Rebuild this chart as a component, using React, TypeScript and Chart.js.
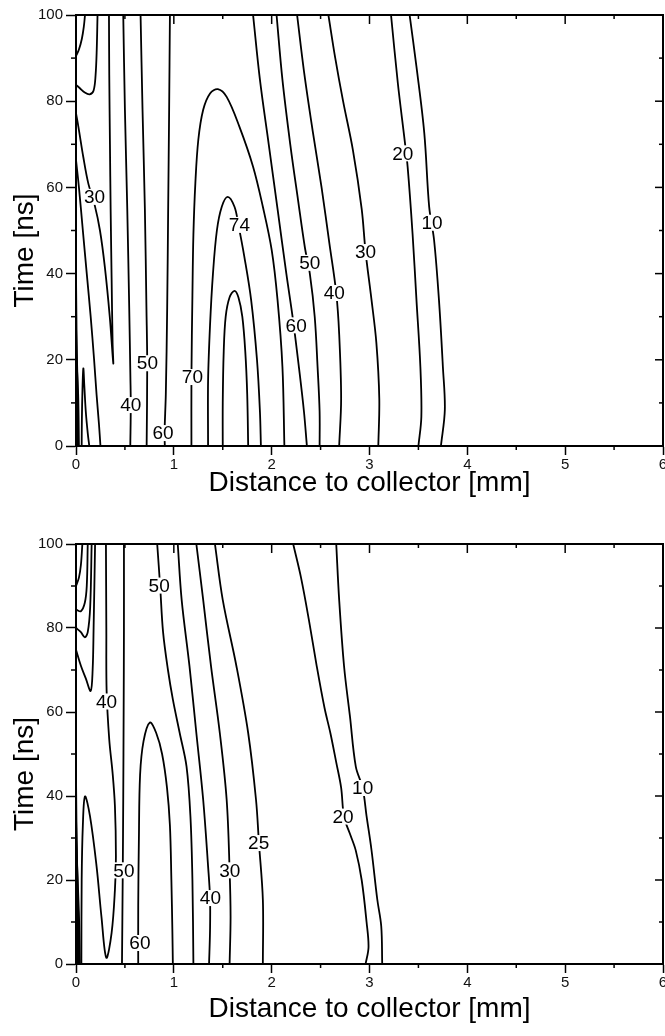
import React, { useEffect, useRef } from 'react';
import { Chart, registerables } from 'chart.js';

Chart.register(...registerables);

type P = [number, number];
type Lbl = [string, number, number];

// ---------- Upper panel contours (x: mm, y: ns) ----------
const upA: P[] = [[0, 90.5], [0.03, 92], [0.06, 94.5], [0.08, 97.3], [0.092, 100]];
const upB: P[] = [[0, 83.8], [0.04, 83], [0.09, 82], [0.14, 81.6], [0.18, 82.5], [0.2, 86], [0.212, 92], [0.22, 100]];
const up30V: P[] = [[0, 77.2], [0.025, 74], [0.075, 67], [0.125, 61], [0.19, 56], [0.245, 50], [0.295, 41.5], [0.345, 30], [0.381, 19.2], [0.374, 24], [0.364, 39], [0.354, 55], [0.347, 70], [0.34, 86], [0.337, 100]];
const upL: P[] = [[0, 66.4], [0.03, 60], [0.07, 50], [0.11, 40], [0.15, 30], [0.185, 20], [0.21, 12], [0.235, 5], [0.25, 0]];
const upE1: P[] = [[0, 40], [0.008, 20], [0.012, 0]];
const upE2: P[] = [[0, 28], [0.015, 15], [0.02, 0]];
const upE3: P[] = [[0, 22], [0.022, 12], [0.03, 0]];
const upPeak: P[] = [[0.058, 0], [0.06, 6], [0.066, 13], [0.075, 18], [0.085, 14], [0.1, 8], [0.12, 3], [0.136, 0]];
const up40: P[] = [[0.483, 100], [0.5, 78], [0.524, 55], [0.544, 32], [0.556, 16], [0.56, 9.5], [0.555, 0]];
const up50: P[] = [[0.66, 100], [0.68, 78], [0.704, 55], [0.72, 32], [0.728, 19], [0.722, 0]];
const up60: P[] = [[0.96, 100], [0.952, 78], [0.942, 55], [0.932, 32], [0.918, 12], [0.905, 3], [0.908, 0]];
const up70: P[] = [[1.18, 0], [1.18, 16], [1.19, 35], [1.2, 49], [1.22, 61], [1.25, 71], [1.3, 78], [1.37, 81.8], [1.45, 82.8], [1.54, 81], [1.67, 74.1], [1.81, 64.8], [1.91, 55.5], [2.0, 45.5], [2.06, 33.9], [2.11, 18.4], [2.13, 0]];
const up74: P[] = [[1.35, 0], [1.35, 15], [1.37, 28], [1.4, 40], [1.44, 50], [1.49, 55.5], [1.55, 57.8], [1.62, 55.5], [1.66, 51.3], [1.72, 44], [1.79, 33.9], [1.85, 20], [1.88, 8], [1.89, 0]];
const up76: P[] = [[1.5, 0], [1.5, 10], [1.51, 22], [1.53, 30], [1.57, 34.5], [1.62, 36], [1.66, 34.5], [1.7, 30], [1.73, 22], [1.75, 12], [1.76, 0]];
const up60R: P[] = [[1.81, 100], [1.88, 85], [1.97, 70], [2.06, 55], [2.15, 40], [2.22, 29], [2.28, 18], [2.33, 8], [2.36, 0]];
const up50R: P[] = [[2.05, 100], [2.11, 85], [2.19, 70], [2.27, 57], [2.34, 46], [2.39, 40], [2.44, 30], [2.47, 18], [2.49, 8], [2.49, 0]];
const up40R: P[] = [[2.26, 100], [2.33, 87], [2.42, 73], [2.51, 60], [2.59, 47], [2.66, 35.5], [2.69, 26], [2.71, 11], [2.69, 0]];
const up30R: P[] = [[2.58, 100], [2.65, 90], [2.73, 80], [2.83, 68.7], [2.92, 55], [2.96, 45], [3.02, 34], [3.07, 24], [3.1, 11], [3.09, 0]];
const up20: P[] = [[3.22, 100], [3.29, 84.1], [3.36, 70.8], [3.39, 64.7], [3.44, 49.3], [3.48, 33.9], [3.52, 18.4], [3.53, 6.8], [3.5, 0]];
const up10: P[] = [[3.41, 100], [3.48, 88], [3.56, 72.6], [3.61, 55.5], [3.66, 47.8], [3.71, 33.9], [3.75, 18.4], [3.77, 8.4], [3.73, 0]];

const upContours: P[][] = [upA, upB, up30V, upL, upE1, upE2, upE3, upPeak, up40, up50, up60, up70, up74, up76, up60R, up50R, up40R, up30R, up20, up10];
const upLabels: Lbl[] = [
  ['30', 0.19, 57.8], ['74', 1.67, 51.3], ['20', 3.34, 67.9], ['10', 3.64, 51.8],
  ['50', 2.39, 42.5], ['30', 2.96, 45], ['40', 2.64, 35.5], ['60', 2.25, 28],
  ['50', 0.73, 19.2], ['70', 1.19, 16], ['40', 0.56, 9.5], ['60', 0.89, 3],
];

// ---------- Lower panel contours ----------
const loC1: P[] = [[0, 90], [0.03, 92], [0.05, 95], [0.065, 100]];
const loC2: P[] = [[0, 84.4], [0.05, 84], [0.09, 86], [0.11, 90], [0.12, 100]];
const loC3: P[] = [[0, 80], [0.05, 79], [0.09, 77.8], [0.12, 79], [0.145, 85], [0.16, 100]];
const loC4: P[] = [[0, 74.8], [0.05, 71], [0.1, 68], [0.15, 65], [0.17, 70], [0.18, 80], [0.195, 100]];
const loE1: P[] = [[0, 45], [0.01, 20], [0.015, 0]];
const loE2: P[] = [[0, 35], [0.02, 15], [0.03, 0]];
const loE3: P[] = [[0, 30], [0.03, 12], [0.04, 0]];
const lo40: P[] = [[0.306, 100], [0.31, 80], [0.313, 65], [0.34, 53.4], [0.374, 45.5], [0.398, 37.5], [0.408, 25.6], [0.398, 17.7], [0.364, 7.4], [0.31, 1.5], [0.26, 11.3], [0.21, 23.3], [0.143, 35.2], [0.092, 39.9], [0.07, 33], [0.058, 20], [0.055, 0]];
const lo50: P[] = [[0.49, 100], [0.49, 80], [0.487, 60], [0.483, 40], [0.478, 22], [0.47, 0]];
const lo60: P[] = [[0.636, 0], [0.636, 14], [0.643, 30], [0.655, 45], [0.69, 53], [0.755, 57.5], [0.82, 55], [0.88, 50], [0.93, 42], [0.96, 33], [0.975, 20], [0.985, 8], [0.99, 0]];
const lo50R: P[] = [[0.83, 100], [0.86, 90], [0.89, 79], [0.94, 70], [0.99, 63], [1.06, 55], [1.13, 47], [1.17, 35], [1.19, 20], [1.2, 0]];
const lo40R: P[] = [[1.04, 100], [1.08, 86.7], [1.16, 70.9], [1.23, 55], [1.3, 39.1], [1.35, 23.3], [1.37, 15.7], [1.37, 8], [1.36, 0]];
const lo30R: P[] = [[1.23, 100], [1.3, 86.7], [1.38, 70.9], [1.47, 55], [1.54, 39.1], [1.57, 22.3], [1.58, 11.3], [1.57, 0]];
const lo25: P[] = [[1.42, 100], [1.5, 86.7], [1.64, 70.9], [1.76, 55], [1.84, 39.1], [1.87, 28.8], [1.91, 15.3], [1.91, 0]];
const lo20: P[] = [[2.22, 100], [2.3, 92], [2.38, 82], [2.46, 71], [2.54, 61], [2.6, 55], [2.66, 48], [2.71, 42], [2.74, 35], [2.8, 31], [2.86, 27], [2.92, 20], [2.97, 10], [2.99, 4], [2.96, 0]];
const lo10: P[] = [[2.66, 100], [2.69, 86.7], [2.74, 70.9], [2.8, 59], [2.86, 47], [2.93, 41.9], [2.97, 35.2], [3.02, 27.2], [3.08, 15.3], [3.12, 9], [3.13, 0]];

const loContours: P[][] = [loC1, loC2, loC3, loC4, loE1, loE2, loE3, lo40, lo50, lo60, lo50R, lo40R, lo30R, lo25, lo20, lo10];
const loLabels: Lbl[] = [
  ['50', 0.85, 90.1], ['40', 0.313, 62.5], ['50', 0.49, 22.3], ['60', 0.653, 5],
  ['40', 1.374, 15.7], ['30', 1.571, 22.3], ['25', 1.867, 28.8], ['20', 2.73, 35.1], ['10', 2.93, 41.9],
];

const xMin = 0, xMax = 6, xStep = 1, xMinor = 0.5;
const yMin = 0, yMax = 100, yStep = 20, yMinor = 10;
const xTitle = 'Distance to collector [mm]';
const yTitle = 'Time [ns]';

const FONT = '"Liberation Sans", Arial, Helvetica, sans-serif';

function makeConfig(contours: P[][], labels: Lbl[], padTop: number, xAxisH: number): any {
  const framePlugin = {
    id: 'frameAndLabels',
    afterDatasetsDraw(chart: any) {
      const { ctx, scales } = chart;
      ctx.save();
      ctx.font = `19px ${FONT}`;
      ctx.textAlign = 'center';
      ctx.textBaseline = 'middle';
      for (const [t, x, y] of labels) {
        const px = scales.x.getPixelForValue(x);
        const py = scales.y.getPixelForValue(y);
        const w = ctx.measureText(t).width;
        ctx.fillStyle = '#fff';
        ctx.fillRect(px - w / 2 - 1, py - 8, w + 2, 16);
        ctx.fillStyle = '#000';
        ctx.fillText(t, px, py + 1);
      }
      ctx.restore();
    },
    afterDraw(chart: any) {
      const { ctx, chartArea: a, scales } = chart;
      const xs = scales.x, ys = scales.y;
      ctx.save();
      ctx.strokeStyle = '#000';
      ctx.lineWidth = 2;
      ctx.beginPath();
      ctx.moveTo(a.left, a.top);
      ctx.lineTo(a.right, a.top);
      ctx.lineTo(a.right, a.bottom);
      ctx.stroke();
      ctx.lineWidth = 1.5;
      for (let i = 0; i <= Math.round((xMax - xMin) / xMinor); i++) {
        const v = xMin + i * xMinor;
        const px = xs.getPixelForValue(v);
        const major = i % Math.round(xStep / xMinor) === 0;
        ctx.beginPath();
        ctx.moveTo(px, a.top);
        ctx.lineTo(px, a.top + (major ? 9 : 4));
        ctx.stroke();
        if (!major) {
          ctx.beginPath();
          ctx.moveTo(px, a.bottom);
          ctx.lineTo(px, a.bottom + 4);
          ctx.stroke();
        }
      }
      for (let i = 0; i <= Math.round((yMax - yMin) / yMinor); i++) {
        const v = yMin + i * yMinor;
        const py = ys.getPixelForValue(v);
        const major = i % Math.round(yStep / yMinor) === 0;
        ctx.beginPath();
        ctx.moveTo(a.right, py);
        ctx.lineTo(a.right - (major ? 8 : 4), py);
        ctx.stroke();
        if (!major) {
          ctx.beginPath();
          ctx.moveTo(a.left, py);
          ctx.lineTo(a.left - 5, py);
          ctx.stroke();
        }
      }
      // y-axis title
      ctx.fillStyle = '#000';
      ctx.font = `28px ${FONT}`;
      ctx.textAlign = 'center';
      ctx.textBaseline = 'middle';
      ctx.translate(25, (a.top + a.bottom) / 2 + 20);
      ctx.rotate(-Math.PI / 2);
      ctx.fillText(yTitle, 0, 0);
      ctx.restore();
    },
  };

  return {
    type: 'scatter',
    data: {
      datasets: contours.map((c) => ({
        data: c.map(([x, y]) => ({ x, y })),
        showLine: true,
        borderColor: '#000',
        borderWidth: 1.8,
        pointRadius: 0,
        tension: 0.35,
        fill: false,
      })),
    },
    options: {
      animation: false,
      responsive: false,
      maintainAspectRatio: false,
      devicePixelRatio: 1,
      events: [],
      layout: { padding: { left: 0, right: 2, top: padTop, bottom: 0 } },
      plugins: { legend: { display: false }, tooltip: { enabled: false } },
      scales: {
        x: {
          type: 'linear',
          min: xMin,
          max: xMax,
          ticks: { stepSize: xStep, font: { size: 15, family: FONT }, color: '#111', padding: 1, maxRotation: 0 },
          grid: { drawOnChartArea: false, drawTicks: true, tickLength: 9, tickWidth: 1.5, tickColor: '#000' },
          border: { display: true, width: 2, color: '#000' },
          title: { display: true, text: xTitle, font: { size: 28, family: FONT }, color: '#000', padding: { top: 0, bottom: 0 } },
          afterFit: (s: any) => {
            s.height = xAxisH;
            s.paddingLeft = 0;
            s.paddingRight = 0;
          },
        },
        y: {
          type: 'linear',
          min: yMin,
          max: yMax,
          ticks: { stepSize: yStep, font: { size: 15, family: FONT }, color: '#111', padding: 3 },
          grid: { drawOnChartArea: false, drawTicks: true, tickLength: 10, tickWidth: 1.5, tickColor: '#000' },
          border: { display: true, width: 2, color: '#000' },
          title: { display: false },
          afterFit: (s: any) => {
            s.width = 76;
            s.paddingTop = 0;
            s.paddingBottom = 0;
          },
        },
      },
    },
    plugins: [framePlugin],
  };
}

function Panel(props: { contours: P[][]; labels: Lbl[]; top: number; height: number; padTop: number; xAxisH: number }) {
  const ref = useRef<HTMLCanvasElement | null>(null);
  useEffect(() => {
    if (!ref.current) return;
    const chart = new Chart(ref.current, makeConfig(props.contours, props.labels, props.padTop, props.xAxisH));
    return () => chart.destroy();
  }, []);
  return (
    <canvas
      ref={ref}
      width={665}
      height={props.height}
      style={{ position: 'absolute', left: 0, top: props.top, width: 665, height: props.height }}
    />
  );
}

export default function App() {
  return (
    <div style={{ position: 'absolute', left: 0, top: 0, width: 665, height: 1036, background: '#fff' }}>
      <Panel contours={upContours} labels={upLabels} top={0} height={500} padTop={15} xAxisH={54} />
      <Panel contours={loContours} labels={loLabels} top={500} height={526} padTop={44} xAxisH={62} />
    </div>
  );
}
